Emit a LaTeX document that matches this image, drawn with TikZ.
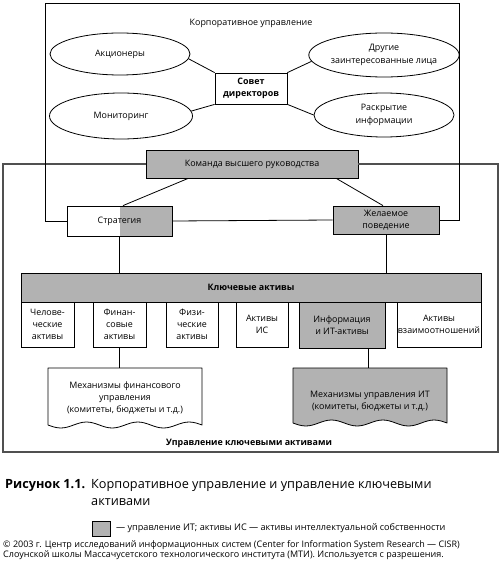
\documentclass[tikz,border=0pt]{standalone}
\usepackage{fontspec}
\setmainfont{Open Sans}
\usetikzlibrary{calc,shapes.geometric}
\definecolor{fillg}{RGB}{178,178,178}
\definecolor{outerc}{RGB}{80,80,80}
\tikzset{
  dfont/.style={font=\fontsize{8.9}{12.3}\selectfont},
  bfont/.style={font=\fontsize{8.9}{12.3}\selectfont\bfseries},
  box/.style={draw, line width=0.8pt, inner sep=0pt, align=center, dfont},
  gbox/.style={box, fill=fillg},
  ell/.style={draw, line width=0.8pt, ellipse, inner sep=0pt, align=center, dfont},
  conn/.style={line width=0.8pt},
  outer/.style={line width=1.6pt, draw=outerc},
  doclabel/.style={inner sep=0pt, align=center, dfont},
  capline/.style={anchor=base west, inner sep=0pt, font=\fontsize{12.7}{15}\selectfont},
  copyline/.style={anchor=base west, inner sep=0pt, font=\fontsize{9}{11}\selectfont},
}
\begin{document}
\begin{tikzpicture}[x=1pt,y=-1pt]
\useasboundingbox (0,0) rectangle (500,572);
% outer governance frame coordinates
\coordinate (tl) at (45,3);
\coordinate (tr) at (459,3);
% key asset frame
\coordinate (c1) at (3,164);
\coordinate (c2) at (498,164);
\coordinate (c3) at (498,452);
\coordinate (c4) at (3,452);

\node[dfont] (cgtitle) at (251,23) {Корпоративное управление};

\node[ell, minimum width=140, minimum height=42] (akc) at (120,54) {Акционеры};
\node[ell, minimum width=143, minimum height=46] (mon) at (121,116) {Мониторинг};
\node[ell, minimum width=141, minimum height=44] (dr) at (384,55) {Другие\\заинтересованные лица};
\node[ell, minimum width=140, minimum height=44] (ras) at (384,115) {Раскрытие\\информации};

\node[box, fill=white, minimum width=72, minimum height=31, bfont] (sovet) at (251,88.5) {Совет\\директоров};

\draw[conn] (akc.-4) -- (sovet.north west);
\draw[conn] (mon.4) -- (sovet.south west);
\draw[conn] (dr.185) -- (sovet.north east);
\draw[conn] (ras.west) -- (sovet.south east);

\node[gbox, minimum width=212, minimum height=28] (komanda) at (252,164) {Команда высшего руководства};

\node[box, fill=white, minimum width=105, minimum height=30,
  path picture={\fill[fillg] (path picture bounding box.north) rectangle (path picture bounding box.south east);}] (strat) at (119.5,221) {Стратегия};
\node[gbox, minimum width=106, minimum height=28] (zhel) at (386,220) {Желаемое\\поведение};

% frames
\draw[outer] (komanda.west) -- (c1) -- (c4) -- (c3) -- (c2) -- (komanda.east);
\draw[conn] (strat.west) -| (tl) -- (tr) |- (zhel.east);
\draw[conn] (strat.east) -- (zhel.west);
\draw[conn] ($(komanda.south west)!0.2!(komanda.south east)$) -- ($(strat.north)+(3.5,0)$);
\draw[conn] ($(komanda.south west)!0.896!(komanda.south east)$) -- ($(zhel.north)+(-3,0)$);

\node[gbox, minimum width=460, minimum height=29, bfont] (key) at (251,287.5) {Ключевые активы};

\draw[conn] (strat.south) -- (strat.south |- key.north);
\draw[conn] (zhel.south) -- (zhel.south |- key.north);

\node[box, minimum width=53, minimum height=45] (hum) at (47.5,324.5) {Челове-\\ческие\\активы};
\node[box, minimum width=53, minimum height=45] (fin) at (119.5,324.5) {Финан-\\совые\\активы};
\node[box, minimum width=52, minimum height=45] (phys) at (192,324.5) {Физи-\\ческие\\активы};
\node[box, minimum width=52, minimum height=45] (ip) at (262,324.5) {Активы\\ИС};
\node[gbox, minimum width=86, minimum height=46] (info) at (342,325) {Информация\\и ИТ-активы};
\node[box, minimum width=84, minimum height=45] (rel) at (439,324.5) {Активы\\взаимоотношений};

% documents
\draw[conn, line join=round, fill=white] (48,368) -- (202,368) -- (202,425)
  sin ++(-12.833,-3) cos ++(-12.833,3) sin ++(-12.833,3) cos ++(-12.833,-3)
  sin ++(-12.833,-3) cos ++(-12.833,3) sin ++(-12.833,3) cos ++(-12.833,-3)
  sin ++(-12.833,-3) cos ++(-12.833,3) sin ++(-12.833,3) cos ++(-12.833,-3)
  -- cycle;
\node[doclabel] (findoc) at (125,398) {Механизмы финансового\\управления\\(комитеты, бюджеты и т.д.)};
\coordinate (findoctop) at (125,368);

\draw[conn, line join=round, fill=fillg] (293,368) -- (447,368) -- (447,423)
  sin ++(-12.833,-3) cos ++(-12.833,3) sin ++(-12.833,3) cos ++(-12.833,-3)
  sin ++(-12.833,-3) cos ++(-12.833,3) sin ++(-12.833,3) cos ++(-12.833,-3)
  sin ++(-12.833,-3) cos ++(-12.833,3) sin ++(-12.833,3) cos ++(-12.833,-3)
  -- cycle;
\node[doclabel] (itdoc) at (370,401) {Механизмы управления ИТ\\(комитеты, бюджеты и т.д.)};
\coordinate (itdoctop) at (368,368);

\draw[conn] (fin.south) -- (fin.south |- findoctop);
\draw[conn] (itdoctop |- info.south) -- (itdoctop);

\node[bfont] (kam) at (249,443) {Управление ключевыми активами};

% caption
\node[capline, font=\fontsize{12.7}{15}\selectfont\bfseries] (fig) at (5,488) {Рисунок 1.1.};
\node[capline] (cap1) at (91,488) {Корпоративное управление и управление ключевыми};
\node[capline] (cap2) at (91,505) {активами};

\node[draw, fill=fillg, line width=0.8pt, minimum width=18, minimum height=15, inner sep=0pt] (leg) at (101,528.5) {};
\node[anchor=west, inner sep=0pt, font=\fontsize{9.1}{11}\selectfont] (legt) at (116,528.5) {— управление ИТ; активы ИС — активы интеллектуальной собственности};

\node[copyline] (copy1) at (3,547) {© 2003 г. Центр исследований информационных систем (Center for Information System Research — CISR)};
\node[copyline] (copy2) at (3,557) {Слоунской школы Массачусетского технологического института (МТИ). Используется с разрешения.};
\end{tikzpicture}
\end{document}
